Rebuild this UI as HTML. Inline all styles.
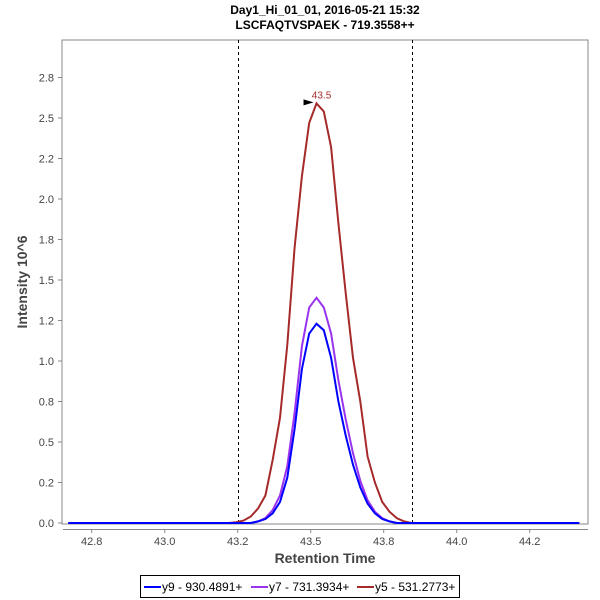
<!DOCTYPE html>
<html><head><meta charset="utf-8"><style>
body{margin:0;background:#fff;}
svg{display:block;font-family:"Liberation Sans",sans-serif;}
</style></head><body>
<svg id="chart" width="600" height="600">
<text x="325" y="14" text-anchor="middle" font-size="12" font-weight="bold" fill="#000">Day1_Hi_01_01, 2016-05-21 15:32</text>
<text x="325" y="29" text-anchor="middle" font-size="12" font-weight="bold" fill="#000">LSCFAQTVSPAEK - 719.3558++</text>
<rect x="62" y="40" width="526" height="484" fill="#fff" stroke="#888" stroke-width="1"/>
<line x1="63" y1="529.5" x2="588" y2="529.5" stroke="#888"/>
<g id="yticks"></g>
<g id="xticks"></g>
<g id="bounds"></g>
<g id="series"></g>
<text x="325" y="563" text-anchor="middle" font-size="14" font-weight="bold" fill="#444">Retention Time</text>
<text transform="translate(27,282) rotate(-90)" text-anchor="middle" font-size="14" font-weight="bold" fill="#444">Intensity 10^6</text>
<g>
<rect x="140.5" y="575.5" width="319" height="22" fill="#fff" stroke="#000"/>
<g><line x1="144" y1="587" x2="161" y2="587" stroke="#0000ff" stroke-width="2"/><text x="162" y="591" font-size="12" fill="#000">y9 - 930.4891+</text></g>
<g><line x1="251" y1="587" x2="268" y2="587" stroke="#9933ee" stroke-width="2"/><text x="269" y="591" font-size="12" fill="#000">y7 - 731.3934+</text></g>
<g><line x1="357" y1="587" x2="374" y2="587" stroke="#a52a2a" stroke-width="2"/><text x="375" y="591" font-size="12" fill="#000">y5 - 531.2773+</text></g>
</g>
</svg>
<script>
const times = [42.67,42.695,42.72,42.745,42.77,42.795,42.82,42.845,42.87,42.895,42.92,42.945,42.97,42.995,43.02,43.045,43.07,43.095,43.12,43.145,43.17,43.195,43.22,43.245,43.27,43.295,43.32,43.345,43.37,43.395,43.42,43.445,43.47,43.495,43.52,43.545,43.57,43.595,43.62,43.645,43.67,43.695,43.72,43.745,43.77,43.795,43.82,43.845,43.87,43.895,43.92,43.945,43.97,43.995,44.02,44.045,44.07,44.095,44.12,44.145,44.17,44.195,44.22,44.245,44.27,44.295,44.32,44.345,44.37,44.395,44.42];
const y5Values = [0,0,0,0,0,0,0,0,0,0,0,0,0,0,0,0,0,0,0,0,0,0,0,0.005,0.015,0.04,0.09,0.17,0.39,0.65,1.10,1.70,2.14,2.47,2.59,2.54,2.32,1.85,1.42,1.02,0.75,0.41,0.25,0.13,0.07,0.03,0.01,0,0,0,0,0,0,0,0,0,0,0,0,0,0,0,0,0,0,0,0,0,0,0,0];
const y7Values = [0,0,0,0,0,0,0,0,0,0,0,0,0,0,0,0,0,0,0,0,0,0,0,0,0,0,0.01,0.03,0.08,0.17,0.35,0.68,1.09,1.33,1.39,1.33,1.17,0.88,0.64,0.43,0.26,0.14,0.07,0.03,0.01,0,0,0,0,0,0,0,0,0,0,0,0,0,0,0,0,0,0,0,0,0,0,0,0,0,0];
const y9Values = [0,0,0,0,0,0,0,0,0,0,0,0,0,0,0,0,0,0,0,0,0,0,0,0,0,0,0.01,0.025,0.06,0.13,0.28,0.58,0.95,1.17,1.23,1.19,1.02,0.75,0.54,0.36,0.22,0.12,0.06,0.025,0.01,0,0,0,0,0,0,0,0,0,0,0,0,0,0,0,0,0,0,0,0,0,0,0,0,0,0];
const yTickValues = [0,0.25,0.5,0.75,1.0,1.25,1.5,1.75,2.0,2.25,2.5,2.75];
const yTickLabels = ["0.0","0.2","0.5","0.8","1.0","1.2","1.5","1.8","2.0","2.2","2.5","2.8"];
const xTickValues = [42.75,43.0,43.25,43.5,43.75,44.0,44.25];
const xTickLabels = ["42.8","43.0","43.2","43.5","43.8","44.0","44.2"];
const boundaryTimes = [43.25,43.847];
const peakTime = 43.52;
const peakValue = 2.59;
const peakLabel = "43.5";

const NS="http://www.w3.org/2000/svg";
function X(v){return 237.7+(v-43.25)*292;}
function Y(v){return 523-v*162;}
function mk(tag,attrs,parent){const e=document.createElementNS(NS,tag);for(const k in attrs)e.setAttribute(k,attrs[k]);parent.appendChild(e);return e;}
const yt=document.getElementById('yticks');
yTickValues.forEach((v,i)=>{
  const y=Y(v);
  const l=mk('line',{x1:58,x2:62,y1:y,y2:y,stroke:'#888'},yt);
  
  
  const t=mk('text',{x:54,y:y+4,'text-anchor':'end','font-size':11,fill:'#444'},yt);
  t.textContent=yTickLabels[i];
  
  
});
const xt=document.getElementById('xticks');
xTickValues.forEach((v,i)=>{
  const x=X(v);
  const l=mk('line',{x1:x,x2:x,y1:529,y2:533,stroke:'#888'},xt);
  
  
  const t=mk('text',{x:x,y:545,'text-anchor':'middle','font-size':11,fill:'#444'},xt);
  t.textContent=xTickLabels[i];
  
  
});
const bd=document.getElementById('bounds');
boundaryTimes.forEach(v=>{
  const x=Math.round(X(v))+0.5;
  const l=mk('line',{x1:x,x2:x,y1:40,y2:524,stroke:'#000','stroke-width':1,'stroke-dasharray':'3,3'},bd);
  
  
});
const sg=document.getElementById('series');
[[y5Values,'#a52a2a','series-y5'],[y7Values,'#9933ee','series-y7'],[y9Values,'#0000ff','series-y9']].forEach(s=>{
  const pts=times.map((t,i)=>X(t).toFixed(1)+','+Y(s[0][i]).toFixed(1)).join(' ');
  const p=mk('polyline',{points:pts,fill:'none',stroke:s[1],'stroke-width':2,'stroke-linejoin':'miter'},sg);
  
  
});
const px=X(peakTime), py=Y(peakValue);
const arr=mk('polygon',{points:(px-13)+','+(py-4)+' '+(px-3)+','+(py-1)+' '+(px-13)+','+(py+2),fill:'#000'},sg);


const pl=mk('text',{x:px+5,y:py-5,'text-anchor':'middle','font-size':10,fill:'#a52a2a'},sg);
pl.textContent=peakLabel;


</script>
</body></html>
